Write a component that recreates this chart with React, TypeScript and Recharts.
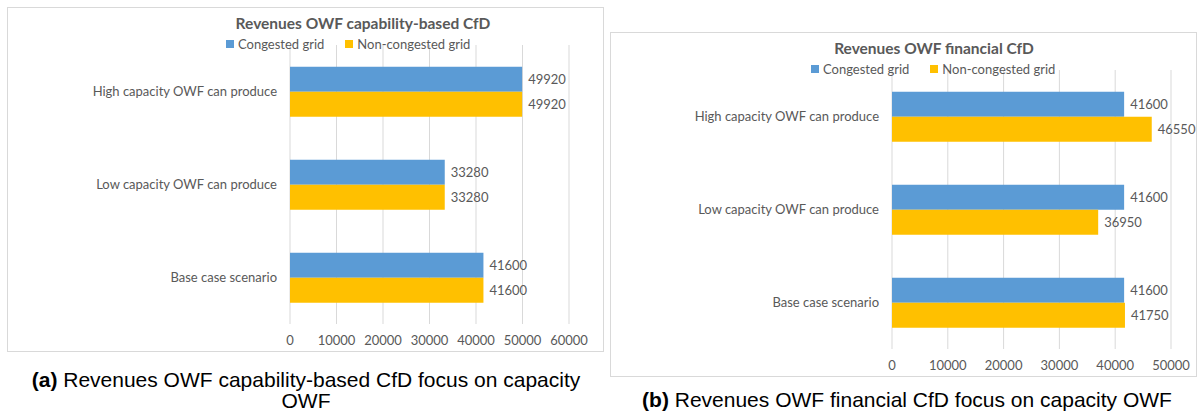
import React from 'react';
import {
  BarChart,
  Bar,
  XAxis,
  YAxis,
  CartesianGrid,
  Legend,
  LabelList,
} from 'recharts';

const categories = [
  'High capacity OWF can produce',
  'Low capacity OWF can produce',
  'Base case scenario',
];
const seriesNames = ['Congested grid', 'Non-congested grid'];

const capabilityCongested = [49920, 33280, 41600];
const capabilityNonCongested = [49920, 33280, 41600];
const financialCongested = [41600, 41600, 41600];
const financialNonCongested = [46550, 36950, 41750];

const ticksA = [0, 10000, 20000, 30000, 40000, 50000, 60000];
const ticksB = [0, 10000, 20000, 30000, 40000, 50000];

const BLUE = '#5B9BD5';
const GOLD = '#FFC000';
const GREY_TEXT = '#595959';
const GRID = '#D9D9D9';
const CHART_FONT = 'Lato, "Open Sans", sans-serif';

function buildRows(a: number[], b: number[]) {
  return categories.map((name, i) => ({ name, congested: a[i], nonCongested: b[i] }));
}

const renderLegend = (props: any) => {
  const { payload } = props;
  return (
    <div style={{ display: 'flex', alignItems: 'center', fontFamily: CHART_FONT, fontSize: 13, color: GREY_TEXT, whiteSpace: 'nowrap' }}>
      {(payload || []).map((entry: any, i: number) => (
        <div key={i} style={{ display: 'flex', alignItems: 'center', marginRight: i === 0 ? 21 : 0 }}>
          <span style={{ display: 'inline-block', width: 8, height: 8, background: entry.color, marginRight: 4 }} />
          <span>{entry.value}</span>
        </div>
      ))}
    </div>
  );
};

// plain category tick, no wrapping
const CategoryTick = (props: any) => {
  const { x, y, payload } = props;
  return (
    <text x={x - 7} y={y} dy="0.35em" textAnchor="end" fill={GREY_TEXT} fontSize={13} fontFamily={CHART_FONT}>
      {payload.value}
    </text>
  );
};

interface PanelProps {
  left: number;
  top: number;
  width: number;
  height: number;
  title: string;
  titleX: number;
  legendX: number;
  rows: { name: string; congested: number; nonCongested: number }[];
  ticks: number[];
  marginLeft: number;
  marginRight: number;
}

function Panel({ left, top, width, height, title, titleX, legendX, rows, ticks, marginLeft, marginRight }: PanelProps) {
  return (
    <div
      style={{
        position: 'absolute',
        left,
        top,
        width,
        height,
        boxSizing: 'border-box',
        border: `1px solid ${GRID}`,
        background: '#fff',
      }}
    >
      <div
        style={{
          position: 'absolute',
          left: titleX - 200,
          width: 400,
          top: 6,
          textAlign: 'center',
          fontFamily: CHART_FONT,
          fontWeight: 700,
          fontSize: 15.5,
          color: GREY_TEXT,
        }}
      >
        {title}
      </div>
      <div style={{ position: 'absolute', left: -1, top: -1 }}>
        <BarChart
          width={width}
          height={height}
          data={rows}
          layout="vertical"
          barCategoryGap="23.5%"
          barGap={0}
          margin={{ top: 38, right: marginRight, bottom: 8, left: marginLeft }}
        >
          <CartesianGrid horizontal={false} stroke={GRID} />
          <XAxis
            type="number"
            domain={[ticks[0], ticks[ticks.length - 1]]}
            ticks={ticks}
            interval={0}
            axisLine={false}
            tickLine={false}
            tickMargin={6}
            height={20}
            tick={{ fill: GREY_TEXT, fontSize: 13, fontFamily: CHART_FONT }}
          />
          <YAxis
            type="category"
            dataKey="name"
            width={200}
            axisLine={false}
            tickLine={false}
            tickMargin={0}
            tick={<CategoryTick />}
          />
          <Legend
            verticalAlign="middle"
            align="center"
            wrapperStyle={{ top: 29, left: legendX, width: 'auto' }}
            content={renderLegend}
          />
          <Bar dataKey="congested" name={seriesNames[0]} fill={BLUE} isAnimationActive={false}>
            <LabelList dataKey="congested" position="right" offset={6} fill={GREY_TEXT} fontSize={13} fontFamily={CHART_FONT} />
          </Bar>
          <Bar dataKey="nonCongested" name={seriesNames[1]} fill={GOLD} isAnimationActive={false}>
            <LabelList dataKey="nonCongested" position="right" offset={6} fill={GREY_TEXT} fontSize={13} fontFamily={CHART_FONT} />
          </Bar>
        </BarChart>
      </div>
    </div>
  );
}

const captionStyle: React.CSSProperties = {
  position: 'absolute',
  textAlign: 'center',
  fontFamily: '"Liberation Sans", Arial, sans-serif',
  fontSize: 21,
  lineHeight: '21px',
  color: '#000',
};

export default function App() {
  return (
    <div style={{ position: 'absolute', left: 0, top: 0, width: 1200, height: 416, background: '#fff', overflow: 'hidden' }}>
      <Panel
        left={7}
        top={7}
        width={597}
        height={345}
        title="Revenues OWF capability-based CfD"
        titleX={355}
        legendX={219}
        rows={buildRows(capabilityCongested, capabilityNonCongested)}
        ticks={ticksA}
        marginLeft={83}
        marginRight={35}
      />
      <Panel
        left={610}
        top={32}
        width={587}
        height={345}
        title="Revenues OWF financial CfD"
        titleX={323}
        legendX={201}
        rows={buildRows(financialCongested, financialNonCongested)}
        ticks={ticksB}
        marginLeft={82}
        marginRight={26}
      />
      <div style={{ ...captionStyle, left: 6, width: 600, top: 369 }}>
        <b>(a)</b> Revenues OWF capability-based CfD focus on capacity
        <br />
        OWF
      </div>
      <div style={{ ...captionStyle, left: 607, width: 600, top: 389 }}>
        <b>(b)</b> Revenues OWF financial CfD focus on capacity OWF
      </div>
    </div>
  );
}
